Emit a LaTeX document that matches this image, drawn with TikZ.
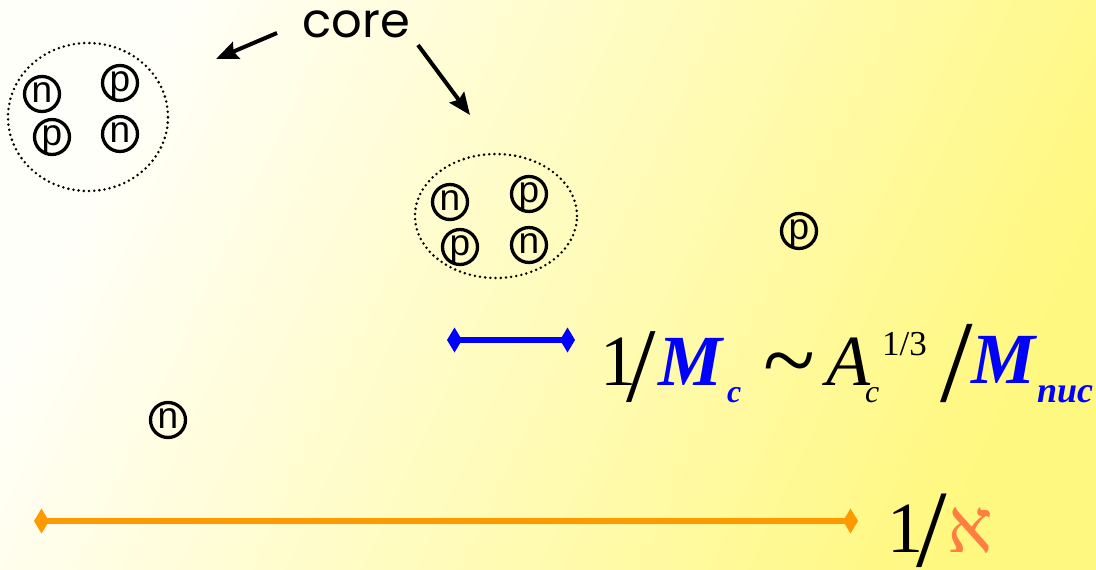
\documentclass[tikz,border=0pt]{standalone}
\usepackage{fontspec}
\setmainfont{Liberation Serif}
\newfontfamily\particlefont{Liberation Sans}
\newfontfamily\labelfont{Poppins}
\newfontfamily\hebfont[Script=Hebrew]{Liberation Serif}
\usetikzlibrary{arrows.meta,shapes.geometric}
\TeXXeTstate=1

\definecolor{bgpale}{RGB}{255,255,250}
\definecolor{bgyellow}{RGB}{255,248,128}
\definecolor{scaleblue}{RGB}{0,0,255}
\definecolor{scaleorange}{RGB}{255,153,0}
\definecolor{alephorange}{RGB}{255,127,64}

\newcommand{\fsz}[1]{\fontsize{#1}{#1}\selectfont}

\begin{document}
\begin{tikzpicture}[x=1pt,y=-1pt,
  % fixed letter box: the baseline sits a little below the circle's centre
  particle/.style={circle, draw, line width=3.3pt, minimum size=35pt, inner sep=0pt,
    font=\particlefont\fsz{37}, text height=19pt, text depth=3pt},
  coreline/.style={draw, ellipse, line width=2.8pt, dash pattern=on 0pt off 5.2pt,
    line cap=round, inner sep=0pt},
  pointer/.style={line width=4pt, -{Stealth[length=22pt,width=18pt,inset=3pt]}},
  scalebar/.style={line width=5.5pt,
    {Diamond[length=15pt,width=25pt]}-{Diamond[length=15pt,width=25pt]}},
  eq/.style={inner sep=0pt, anchor=base west},
]
% background
\useasboundingbox (0,0) rectangle (1096,570);
\shade[left color=bgpale, right color=bgyellow, shading angle=65] (0,0) rectangle (1096,570);

% label and pointers
\node[font=\labelfont\fsz{48}, inner sep=0pt, anchor=base] (core) at (356,37) {core};
\coordinate (tailA) at (277,33);
\coordinate (tipA) at (216,59);
\coordinate (tailB) at (418,45);
\coordinate (tipB) at (470,115);
\draw[pointer] (tailA) -- (tipA);
\draw[pointer] (tailB) -- (tipB);

% first nucleus
\node[coreline, minimum width=160pt, minimum height=148pt] (coreA) at (88,117) {};
\node[particle] (nA1) at (42,94) {n};
\node[particle] (pA1) at (120,83) {p};
\node[particle] (pA2) at (52,137) {p};
\node[particle] (nA2) at (120,134) {n};

% second nucleus
\node[coreline, minimum width=162pt, minimum height=124pt] (coreB) at (496,216) {};
\node[particle] (nB1) at (450,202) {n};
\node[particle] (pB1) at (529,194) {p};
\node[particle] (pB2) at (460,247) {p};
\node[particle] (nB2) at (529,245) {n};

% free nucleons
\node[particle] (pFree) at (799,231) {p};
\node[particle] (nFree) at (168,420) {n};

% core size
\coordinate (blueL) at (447,340);
\coordinate (blueR) at (575,340);
\draw[scalebar, scaleblue] (blueL) -- (blueR);

\node[eq, font=\fsz{72}] (one) at (600,385) {1};
\node[eq, font=\fsz{106}] (slashA) at (626,401) {/};
\node[eq, font=\fsz{72}\bfseries\itshape, text=scaleblue] (Mc) at (658,385) {M};
\node[eq, font=\fsz{32}\bfseries\itshape, text=scaleblue] (Mcsub) at (727,402) {c};
\node[eq, font=\fsz{96}] (sim) at (763,392) {\textasciitilde};
\node[eq, font=\fsz{72}\itshape] (Ac) at (826,385) {A};
\node[eq, font=\fsz{32}\itshape] (Acsub) at (865,402) {c};
\node[eq, font=\fsz{35}] (third) at (882,355) {1/3};
\node[eq, font=\fsz{117}] (slashB) at (940,401) {/};
\node[eq, font=\fsz{72}\bfseries\itshape, text=scaleblue] (Mnuc) at (971,383) {M};
\node[eq, font=\fsz{36}\bfseries\itshape, text=scaleblue] (Mnucsub) at (1037,402) {nuc};

% long range
\coordinate (orangeL) at (34,521);
\coordinate (orangeR) at (858,521);
\draw[scalebar, scaleorange] (orangeL) -- (orangeR);

\node[eq, font=\fsz{72}] (oneB) at (887,552) {1};
\node[eq, font=\fsz{110}] (slashC) at (916,566) {/};
\node[eq, font=\hebfont\fsz{76}, text=alephorange] (aleph) at (947,552) {\beginR א\endR};
\end{tikzpicture}
\end{document}
